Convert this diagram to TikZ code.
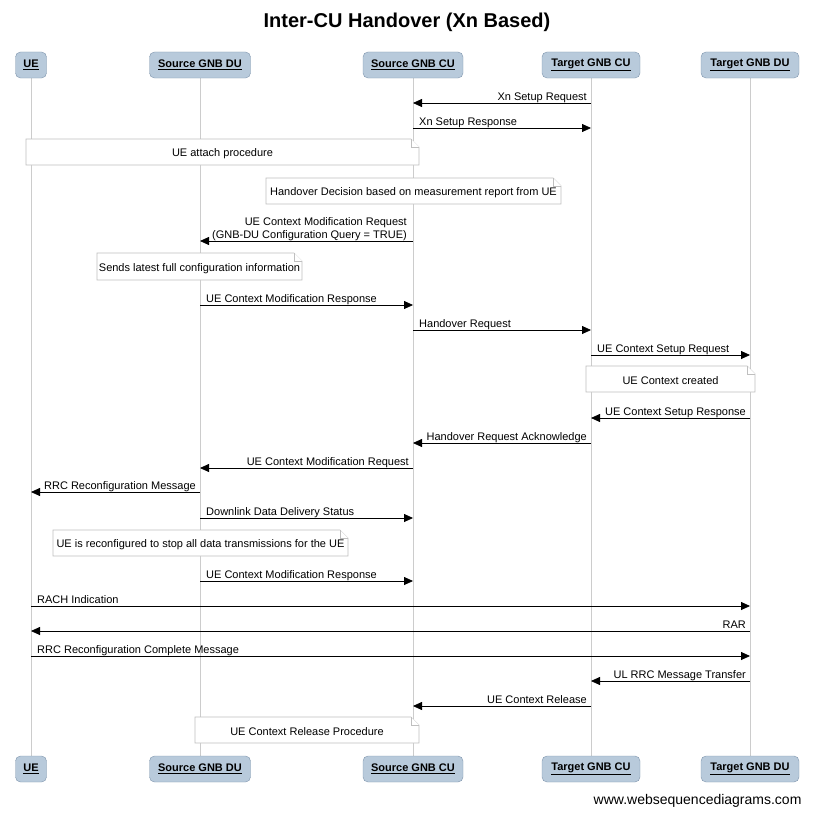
\documentclass[tikz,border=0pt]{standalone}
\usepackage{fontspec}
\setmainfont{Liberation Sans}
\usetikzlibrary{arrows.meta}
\definecolor{actfill}{HTML}{B8CADB}
\definecolor{actdraw}{HTML}{7F95AC}
\begin{document}
\begin{tikzpicture}[x=1pt,y=-1pt,
  actor/.style={draw=actdraw,fill=actfill,rounded corners=5pt,minimum height=26pt,inner sep=0pt,font=\fontsize{11}{13}\selectfont\bfseries},
  life/.style={draw=black!20,line width=0.8pt},
  msgline/.style={draw=black,line width=0.8pt,-{Triangle[length=9pt,width=8pt]}},
  lbl/.style={font=\fontsize{11}{13}\selectfont,inner sep=0pt},
  notebox/.style={draw=black!25,fill=white,line width=0.7pt}]
\useasboundingbox (0,0) rectangle (814,816);
\node[font=\fontsize{20}{24}\selectfont\bfseries] (title) at (407,22) {Inter-CU Handover (Xn Based)};
\foreach \n/\x/\w/\t in {ue/31/31/UE,sdu/200/101/Source GNB DU,scu/413/100/Source GNB CU,tcu/591/98/Target GNB CU,tdu/750/98/Target GNB DU}{
  \draw[life] (\x,78) -- (\x,756);
  \node[actor,minimum width=\w pt] (\n) at (\x,65) {\underline{\t}};
  \node[actor,minimum width=\w pt] (\n b) at (\x,769) {\underline{\t}};
}
\newcommand{\msgR}[4]{% y from to label  (left to right)
  \draw[msgline] (#2.south |- 0,#1) -- (#3.south |- 0,#1);
  \node[lbl,anchor=base west] at ([xshift=6pt]#2.south |- 0,#1-3) {#4};}
\newcommand{\msgL}[4]{%
  \draw[msgline] (#2.south |- 0,#1) -- (#3.south |- 0,#1);
  \node[lbl,anchor=base east] at ([xshift=-4pt]#2.south |- 0,#1-3) {#4};}
\newcommand{\note}[5]{% x1 y1 x2 y2 text
  \draw[notebox] (#1,#2) -- (#3-8,#2) -- (#3,#2+8) -- (#3,#4) -- (#1,#4) -- cycle;
  \draw[notebox] (#3-8,#2) -- (#3-8,#2+8) -- (#3,#2+8);
  \node[lbl] at ({(#1+#3)/2},{(#2+#4)/2+2}) {#5};}
\msgL{103}{tcu}{scu}{Xn Setup Request}
\msgR{128}{scu}{tcu}{Xn Setup Response}
\note{26}{139}{419}{165}{UE attach procedure}
\note{266}{178}{561}{204}{Handover Decision based on measurement report from UE}
\draw[msgline] (scu.south |- 0,241) -- (sdu.south |- 0,241);
\node[lbl,anchor=base east,align=right] at ([xshift=-6pt]scu.south |- 0,238) {UE Context Modification Request\\(GNB-DU Configuration Query = TRUE)};
\note{97}{253}{302}{280}{Sends latest full configuration information}
\msgR{305}{sdu}{scu}{UE Context Modification Response}
\msgR{330}{scu}{tcu}{Handover Request}
\msgR{355}{tcu}{tdu}{UE Context Setup Request}
\note{586}{366}{755}{392}{UE Context created}
\msgL{418}{tdu}{tcu}{UE Context Setup Response}
\msgL{443}{tcu}{scu}{Handover Request Acknowledge}
\msgL{468}{scu}{sdu}{UE Context Modification Request}
\msgL{492}{sdu}{ue}{RRC Reconfiguration Message}
\msgR{518}{sdu}{scu}{Downlink Data Delivery Status}
\note{53}{530}{348}{556}{UE is reconfigured to stop all data transmissions for the UE}
\msgR{581}{sdu}{scu}{UE Context Modification Response}
\msgR{606}{ue}{tdu}{RACH Indication}
\msgL{631}{tdu}{ue}{RAR}
\msgR{656}{ue}{tdu}{RRC Reconfiguration Complete Message}
\msgL{681}{tdu}{tcu}{UL RRC Message Transfer}
\msgL{706}{tcu}{scu}{UE Context Release}
\note{195}{717}{419}{743}{UE Context Release Procedure}
\node[font=\fontsize{14}{16}\selectfont,anchor=east] (footer) at (805,801) {www.websequencediagrams.com};
\end{tikzpicture}
\end{document}
